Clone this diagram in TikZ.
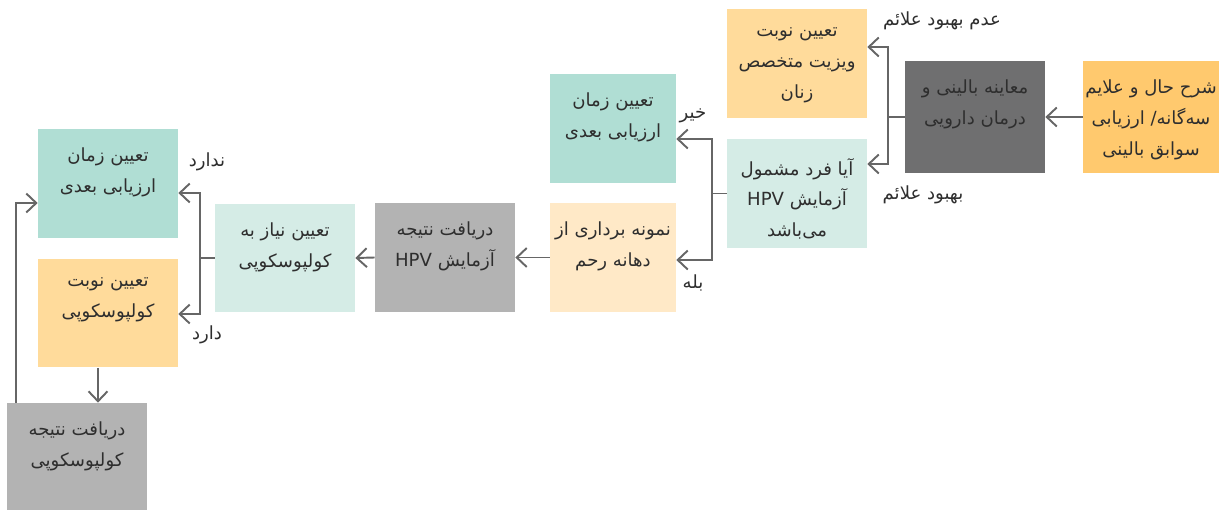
\documentclass[tikz,border=0pt]{standalone}
\usepackage{fontspec}
\usetikzlibrary{arrows.meta,calc}
\TeXXeTstate=1
\newfontfamily\fafont[Script=Arabic]{DejaVu Sans}
\newfontfamily\lafont{DejaVu Sans}
\newcommand\fa[1]{\beginR #1\endR}
\newcommand\hpv{\beginL{\lafont HPV}\endL}
\definecolor{orA}{HTML}{FFC96E}
\definecolor{orB}{HTML}{FFDB9B}
\definecolor{orC}{HTML}{FFE9C7}
\definecolor{grD}{HTML}{6F6F70}
\definecolor{grL}{HTML}{B3B3B3}
\definecolor{tlA}{HTML}{B0DED4}
\definecolor{tlB}{HTML}{D5ECE6}
\definecolor{lnc}{HTML}{666666}
\definecolor{txc}{HTML}{2E2E2E}
\tikzset{
  box/.style={draw=none, minimum width=2.8cm, minimum height=2.18cm, inner sep=0},
  txt/.style={font=\fafont\fontsize{10.3}{17.5}\selectfont, align=center, text=txc, inner sep=0, anchor=north},
  lbl/.style={font=\fafont\fontsize{10.3}{17.5}\selectfont, text=txc, inner sep=0},
  arr/.style={draw=lnc, line width=1.1pt, -{Straight Barb[length=2mm,width=3.8mm,line width=1.1pt]}},
  ln/.style={draw=lnc, line width=1.1pt}
}
\begin{document}
\begin{tikzpicture}[x=0.02cm,y=-0.02cm]
\useasboundingbox (0,0) rectangle (1219,510);
% boxes
\node[box, fill=orA, minimum width=2.72cm, minimum height=2.24cm] (a) at (1151,117) {};
\node[box, fill=grD, minimum height=2.24cm] (b) at (975,117) {};
\node[box, fill=orB] (c) at (797,63.5) {};
\node[box, fill=tlB] (d) at (797,193.5) {};
\node[box, fill=tlA, minimum width=2.52cm] (e) at (613,128.5) {};
\node[box, fill=orC, minimum width=2.52cm] (f) at (613,257.5) {};
\node[box, fill=grL] (g) at (445,257.5) {};
\node[box, fill=tlB] (h) at (285,258) {};
\node[box, fill=tlA] (i) at (108,183.5) {};
\node[box, fill=orB] (j) at (108,313) {};
\node[box, fill=grL, minimum height=2.14cm] (k) at (77,456.5) {};
% texts
\node[txt] (at) at ($(a.north)+(0,19)$) {\fa{شرح حال و علایم}\\\fa{سه‌گانه/ ارزیابی}\\\fa{سوابق بالینی}};
\node[txt] (bt) at ($(b.north)+(0,19)$) {\fa{معاینه بالینی و}\\\fa{درمان دارویی}};
\node[txt] (ct) at ($(c.north)+(0,19)$) {\fa{تعیین نوبت}\\\fa{ویزیت متخصص}\\\fa{زنان}};
\node[txt] (dt) at ($(d.north)+(0,19)$) {\fa{آیا فرد مشمول}\\\fa{آزمایش \hpv}\\\fa{می‌باشد}};
\node[txt] (et) at ($(e.north)+(0,19)$) {\fa{تعیین زمان}\\\fa{ارزیابی بعدی}};
\node[txt] (ft) at ($(f.north)+(0,19)$) {\fa{نمونه برداری از}\\\fa{دهانه رحم}};
\node[txt] (gt) at ($(g.north)+(0,19)$) {\fa{دریافت نتیجه}\\\fa{آزمایش \hpv}};
\node[txt] (ht) at ($(h.north)+(0,19)$) {\fa{تعیین نیاز به}\\\fa{کولپوسکوپی}};
\node[txt] (it) at ($(i.north)+(0,19)$) {\fa{تعیین زمان}\\\fa{ارزیابی بعدی}};
\node[txt] (jt) at ($(j.north)+(0,19)$) {\fa{تعیین نوبت}\\\fa{کولپوسکوپی}};
\node[txt] (kt) at ($(k.north)+(0,19)$) {\fa{دریافت نتیجه}\\\fa{کولپوسکوپی}};
% labels
\node[lbl] (l1) at (942,21) {\fa{عدم بهبود علائم}};
\node[lbl] (l2) at (923,195) {\fa{بهبود علائم}};
\node[lbl] (l3) at (693,116) {\fa{خیر}};
\node[lbl] (l4) at (693,283) {\fa{بله}};
\node[lbl] (l5) at (207,162) {\fa{ندارد}};
\node[lbl] (l6) at (207,335) {\fa{دارد}};
% connectors
\draw[arr] (a.west) -- (b.east);
\draw[ln] (b.west) -- ++(-17,0) coordinate (bj);
\draw[arr] (bj) |- ($(c.east)+(0,-16.5)$);
\draw[arr] (bj) |- ($(d.east)+(0,-29.5)$);
\draw[ln] (d.west) -- ++(-15,0) coordinate (dj);
\draw[arr] (dj) |- ($(e.east)+(0,10.5)$);
\draw[arr] (dj) |- ($(f.east)+(0,2.5)$);
\draw[arr] (f.west) -- (g.east);
\draw[arr] (g.west) -- (h.east);
\draw[ln] (h.west) -- ++(-15,0) coordinate (hj);
\draw[arr] (hj) |- ($(i.east)+(0,9.5)$);
\draw[arr] (hj) |- ($(j.east)+(0,1)$);
\draw[arr] ($(j.south)+(-10,0)$) -- ($(k.north)+(21,0)$);
\draw[arr] ($(k.north)+(-61,0)$) |- ($(i.west)+(0,19.5)$);
\end{tikzpicture}
\end{document}
